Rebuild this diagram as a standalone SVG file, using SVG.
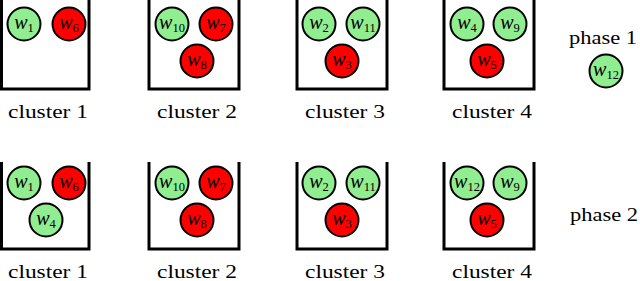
<svg xmlns="http://www.w3.org/2000/svg" width="640" height="281" viewBox="0 0 640 281">
<style>
.wall{fill:none;stroke:#000;stroke-width:3}
.g{fill:#90EE90;stroke:#000;stroke-width:2}
.r{fill:#FF0000;stroke:#000;stroke-width:2}
.w{font-family:"Liberation Serif",serif;font-style:italic;font-size:20px;text-anchor:middle;fill:#000}
.s{font-style:normal;font-size:12.5px}
.lbl{font-family:"Liberation Serif",serif;font-size:19px;text-anchor:middle;fill:#000}
</style>
<rect width="640" height="281" fill="#fff"/>
<g id="phase1">
<g id="p1c1">
<path class="wall" d="M1.5,0V89H89V0"/>
<circle class="g" cx="24" cy="24" r="16.5"/><text class="w" x="24" y="29">w<tspan class="s" dy="3">1</tspan></text>
<circle class="r" cx="69" cy="24" r="16.5"/><text class="w" x="69" y="29">w<tspan class="s" dy="3">6</tspan></text>
<text class="lbl" x="48" y="118" textLength="80" lengthAdjust="spacingAndGlyphs">cluster 1</text>
</g>
<g id="p1c2">
<path class="wall" d="M149,0V89H239V0"/>
<circle class="g" cx="172" cy="24" r="16.5"/><text class="w" x="172" y="29">w<tspan class="s" dy="3">10</tspan></text>
<circle class="r" cx="216" cy="24" r="16.5"/><text class="w" x="216" y="29">w<tspan class="s" dy="3">7</tspan></text>
<circle class="r" cx="197" cy="61" r="16.5"/><text class="w" x="197" y="66">w<tspan class="s" dy="3">8</tspan></text>
<text class="lbl" x="197" y="118" textLength="80" lengthAdjust="spacingAndGlyphs">cluster 2</text>
</g>
<g id="p1c3">
<path class="wall" d="M297,0V89H387V0"/>
<circle class="g" cx="319" cy="24" r="16.5"/><text class="w" x="319" y="29">w<tspan class="s" dy="3">2</tspan></text>
<circle class="g" cx="363" cy="24" r="16.5"/><text class="w" x="363" y="29">w<tspan class="s" dy="3">11</tspan></text>
<circle class="r" cx="342" cy="61" r="16.5"/><text class="w" x="342" y="66">w<tspan class="s" dy="3">3</tspan></text>
<text class="lbl" x="345" y="118" textLength="80" lengthAdjust="spacingAndGlyphs">cluster 3</text>
</g>
<g id="p1c4">
<path class="wall" d="M444,0V89H534V0"/>
<circle class="g" cx="467" cy="24" r="16.5"/><text class="w" x="467" y="29">w<tspan class="s" dy="3">4</tspan></text>
<circle class="g" cx="510" cy="24" r="16.5"/><text class="w" x="510" y="29">w<tspan class="s" dy="3">9</tspan></text>
<circle class="r" cx="487" cy="61" r="16.5"/><text class="w" x="487" y="66">w<tspan class="s" dy="3">5</tspan></text>
<text class="lbl" x="492" y="118" textLength="80" lengthAdjust="spacingAndGlyphs">cluster 4</text>
</g>
<g id="p1free">
<text class="lbl" x="603" y="44" textLength="68" lengthAdjust="spacingAndGlyphs">phase 1</text>
<circle class="g" cx="606" cy="71" r="16.5"/><text class="w" x="606" y="76">w<tspan class="s" dy="3">12</tspan></text>
</g>
</g>
<g id="phase2">
<g id="p2c1">
<path class="wall" d="M1.5,162V249H89V162"/>
<circle class="g" cx="24" cy="183" r="16.5"/><text class="w" x="24" y="188">w<tspan class="s" dy="3">1</tspan></text>
<circle class="r" cx="69" cy="183" r="16.5"/><text class="w" x="69" y="188">w<tspan class="s" dy="3">6</tspan></text>
<circle class="g" cx="46" cy="220" r="16.5"/><text class="w" x="46" y="225">w<tspan class="s" dy="3">4</tspan></text>
<text class="lbl" x="48" y="278" textLength="80" lengthAdjust="spacingAndGlyphs">cluster 1</text>
</g>
<g id="p2c2">
<path class="wall" d="M149,162V249H239V162"/>
<circle class="g" cx="172" cy="183" r="16.5"/><text class="w" x="172" y="188">w<tspan class="s" dy="3">10</tspan></text>
<circle class="r" cx="216" cy="183" r="16.5"/><text class="w" x="216" y="188">w<tspan class="s" dy="3">7</tspan></text>
<circle class="r" cx="197" cy="220" r="16.5"/><text class="w" x="197" y="225">w<tspan class="s" dy="3">8</tspan></text>
<text class="lbl" x="197" y="278" textLength="80" lengthAdjust="spacingAndGlyphs">cluster 2</text>
</g>
<g id="p2c3">
<path class="wall" d="M297,162V249H387V162"/>
<circle class="g" cx="319" cy="183" r="16.5"/><text class="w" x="319" y="188">w<tspan class="s" dy="3">2</tspan></text>
<circle class="g" cx="363" cy="183" r="16.5"/><text class="w" x="363" y="188">w<tspan class="s" dy="3">11</tspan></text>
<circle class="r" cx="342" cy="220" r="16.5"/><text class="w" x="342" y="225">w<tspan class="s" dy="3">3</tspan></text>
<text class="lbl" x="345" y="278" textLength="80" lengthAdjust="spacingAndGlyphs">cluster 3</text>
</g>
<g id="p2c4">
<path class="wall" d="M444,162V249H534V162"/>
<circle class="g" cx="467" cy="183" r="16.5"/><text class="w" x="467" y="188">w<tspan class="s" dy="3">12</tspan></text>
<circle class="g" cx="510" cy="183" r="16.5"/><text class="w" x="510" y="188">w<tspan class="s" dy="3">9</tspan></text>
<circle class="r" cx="487" cy="220" r="16.5"/><text class="w" x="487" y="225">w<tspan class="s" dy="3">5</tspan></text>
<text class="lbl" x="492" y="278" textLength="80" lengthAdjust="spacingAndGlyphs">cluster 4</text>
</g>
<g id="p2label">
<text class="lbl" x="604" y="221" textLength="68" lengthAdjust="spacingAndGlyphs">phase 2</text>
</g>
</g>
</svg>
